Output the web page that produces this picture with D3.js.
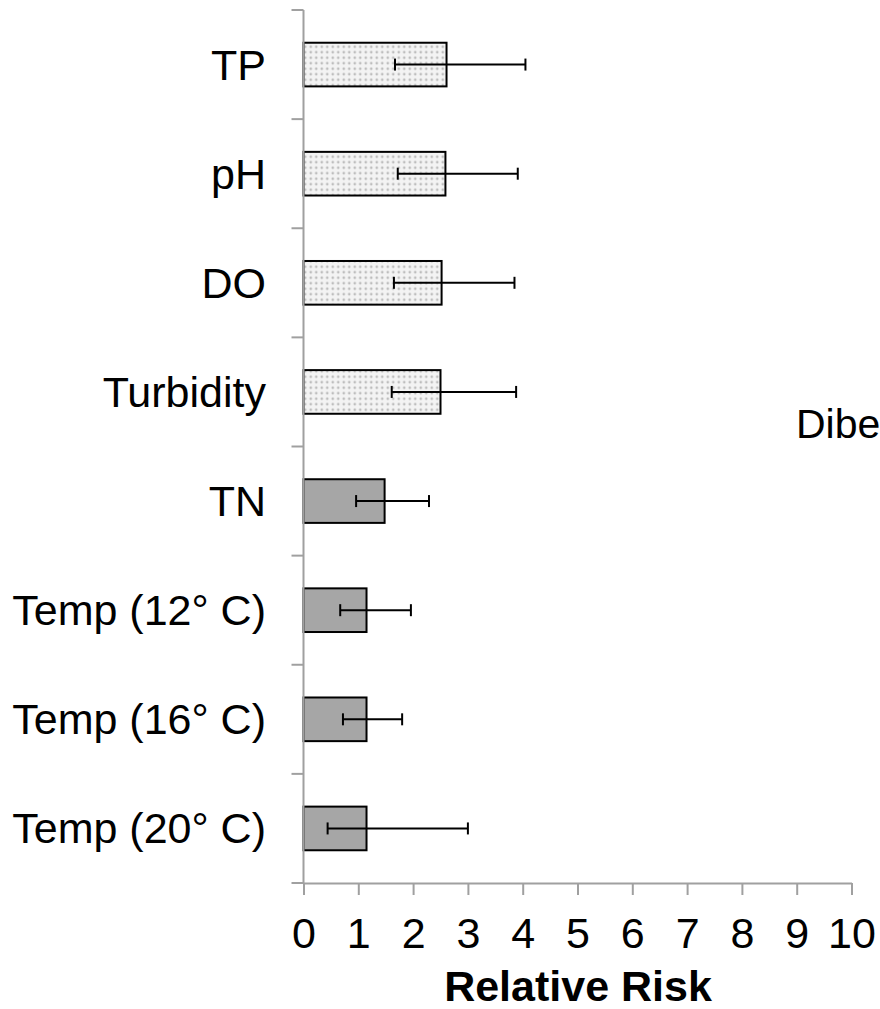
<!DOCTYPE html>
<html>
<head>
<meta charset="utf-8">
<script src="https://cdn.jsdelivr.net/npm/d3@7"></script>
<style>
  html, body { margin: 0; padding: 0; background: #fff; }
  svg { display: block; font-family: "Liberation Sans", Arial, sans-serif; }
</style>
</head>
<body>
<svg id="chart" width="880" height="1009"></svg>
<script>
// Relative risk per water-quality factor, with confidence interval
const categories = ["TP", "pH", "DO", "Turbidity", "TN", "Temp (12° C)", "Temp (16° C)", "Temp (20° C)"];
const riskValues = [2.61, 2.59, 2.52, 2.50, 1.48, 1.15, 1.15, 1.15];
const lowerBounds = [1.67, 1.72, 1.65, 1.61, 0.96, 0.67, 0.72, 0.44];
const upperBounds = [4.05, 3.91, 3.85, 3.88, 2.29, 1.96, 1.80, 3.00];
const patterned = [true, true, true, true, false, false, false, false];
const xTicks = [0, 1, 2, 3, 4, 5, 6, 7, 8, 9, 10];
const xTitle = "Relative Risk";
const sideLabel = "Dibe";

const svg = d3.select("#chart");
const axisColor = "#a0a0a0";
const fontSize = 43;

const x = d3.scaleLinear().domain([0, 10]).range([303.5, 851.5]);
const y = d3.scaleBand().domain(categories).range([10, 883])
  .paddingInner(0.6).paddingOuter(0.3);

// dotted fill
const defs = svg.append("defs");
const pat = defs.append("pattern")
  .attr("id", "dots").attr("patternUnits", "userSpaceOnUse")
  .attr("width", 5.5).attr("height", 5.5);
pat.append("rect").attr("width", 5.5).attr("height", 5.5).attr("fill", "#f3f3f3");
pat.append("circle").attr("cx", 2.75).attr("cy", 2.75).attr("r", 1.3).attr("fill", "#bdbdbd");

const rows = categories.map((c, i) => ({
  cat: c, v: riskValues[i], lo: lowerBounds[i], hi: upperBounds[i], pat: patterned[i]
}));

// bars
svg.append("g").selectAll("rect").data(rows).join("rect")
  .attr("x", x(0))
  .attr("y", d => y(d.cat))
  .attr("width", d => x(d.v) - x(0))
  .attr("height", y.bandwidth())
  .attr("fill", d => d.pat ? "url(#dots)" : "#a6a6a6")
  .attr("stroke", "#000").attr("stroke-width", 2);

// y axis line and category boundary ticks
const yAxis = svg.append("g");
const [y0, y1] = y.range();
yAxis.append("line").attr("x1", x(0)).attr("x2", x(0)).attr("y1", y0).attr("y2", y1)
  .attr("stroke", axisColor).attr("stroke-width", 2);
yAxis.selectAll("line.tick").data(d3.range(categories.length + 1)).join("line")
  .attr("class", "tick")
  .attr("x1", x(0) - 12).attr("x2", x(0))
  .attr("y1", i => y0 + i * y.step()).attr("y2", i => y0 + i * y.step())
  .attr("stroke", axisColor).attr("stroke-width", 2);

// category labels
svg.append("g").selectAll("text").data(rows).join("text")
  .attr("x", 266)
  .attr("y", d => y(d.cat) + y.bandwidth() / 2)
  .attr("dy", "0.35em")
  .attr("text-anchor", "end")
  .attr("font-size", fontSize)
  .attr("fill", "#000")
  .text(d => d.cat);

// x axis
const xAxis = svg.append("g").attr("transform", `translate(0,${y1})`)
  .call(d3.axisBottom(x).tickValues(xTicks).tickSize(12).tickSizeOuter(0).tickFormat(d3.format("d")));
xAxis.select(".domain").attr("stroke", axisColor).attr("stroke-width", 2);
xAxis.selectAll(".tick line").attr("stroke", axisColor).attr("stroke-width", 2);
xAxis.selectAll(".tick text").attr("font-size", fontSize).attr("fill", "#000")
  .attr("font-family", "Liberation Sans, Arial, sans-serif")
  .attr("y", 65).attr("dy", null);

// error bars
const eb = svg.append("g").attr("stroke", "#000").attr("stroke-width", 2);
rows.forEach(d => {
  const cy = y(d.cat) + y.bandwidth() / 2;
  eb.append("line").attr("x1", x(d.lo)).attr("x2", x(d.hi)).attr("y1", cy).attr("y2", cy);
  [d.lo, d.hi].forEach(v => {
    eb.append("line").attr("x1", x(v)).attr("x2", x(v)).attr("y1", cy - 6).attr("y2", cy + 6);
  });
});

// axis title
svg.append("text")
  .attr("x", 578)
  .attr("y", 1001)
  .attr("text-anchor", "middle")
  .attr("font-size", fontSize)
  .attr("font-weight", "bold")
  .text(xTitle);

// side label
svg.append("text")
  .attr("x", 796)
  .attr("y", 438)
  .attr("font-size", 41)
  .text(sideLabel);
</script>
</body>
</html>
